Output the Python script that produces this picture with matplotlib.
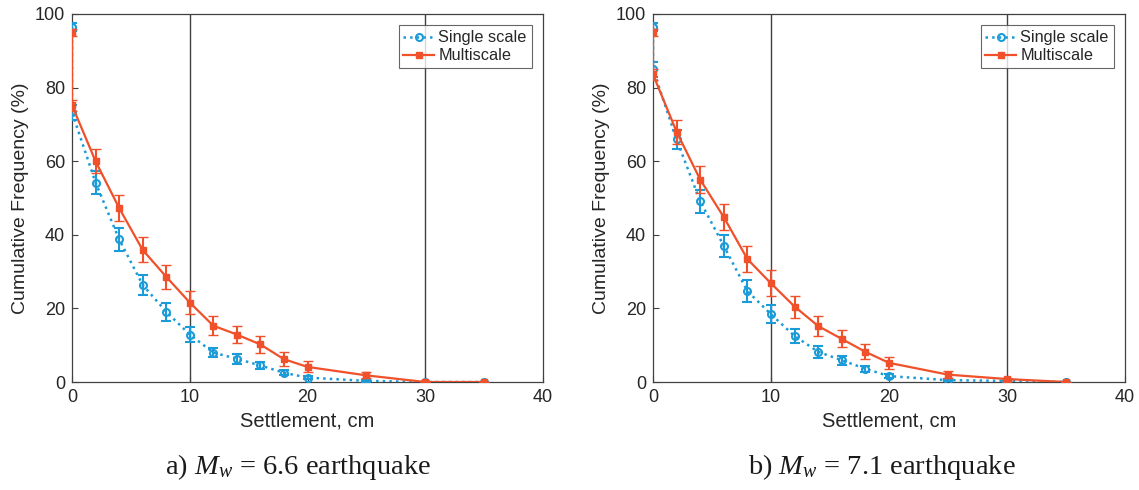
import numpy as np
import matplotlib
matplotlib.use("Agg")
import matplotlib.pyplot as plt

# ---- data ----
settle = [0, 0, 2, 4, 6, 8, 10, 12, 14, 16, 18, 20, 25, 30, 35]

# panel a) Mw = 6.6
a_single = [96.5, 73.3, 54.2, 38.8, 26.4, 19.1, 12.9, 8.0, 6.3, 4.5, 2.5, 1.2, 0.3, 0.0, 0.0]
a_single_err = [1.0, 2.0, 3.2, 3.1, 2.7, 2.5, 2.0, 1.3, 1.3, 1.0, 0.7, 0.5, 0.3, 0.0, 0.0]
a_multi = [95.0, 75.2, 60.0, 47.3, 35.9, 28.6, 21.6, 15.3, 12.9, 10.2, 6.2, 4.1, 1.8, 0.0, 0.0]
a_multi_err = [1.0, 1.5, 3.3, 3.5, 3.4, 3.3, 3.0, 2.6, 2.4, 2.3, 1.9, 1.5, 0.8, 0.0, 0.0]

# panel b) Mw = 7.1
b_single = [96.5, 85.0, 65.9, 49.1, 37.0, 24.7, 18.4, 12.5, 8.2, 5.9, 3.6, 1.6, 0.5, 0.3, 0.0]
b_single_err = [1.0, 2.0, 2.7, 3.2, 3.0, 2.9, 2.4, 2.0, 1.6, 1.2, 0.8, 0.6, 0.3, 0.2, 0.0]
b_multi = [95.0, 83.6, 68.0, 55.0, 44.8, 33.4, 26.8, 20.5, 15.2, 11.7, 8.2, 5.2, 2.0, 0.8, 0.0]
b_multi_err = [1.0, 1.5, 3.2, 3.6, 3.6, 3.5, 3.5, 3.0, 2.7, 2.3, 2.0, 1.6, 0.9, 0.4, 0.0]

xticks = [0, 10, 20, 30, 40]
yticks = [0, 20, 40, 60, 80, 100]
vlines = [10, 30]
captions = ["a) $\\mathit{M}_{\\mathit{w}}$ = 6.6 earthquake",
            "b) $\\mathit{M}_{\\mathit{w}}$ = 7.1 earthquake"]
labels = ["Single scale", "Multiscale"]

BLUE = "#1b9bd7"
ORANGE = "#f0502a"
TXT = "#262626"

plt.rcParams['font.family'] = ['Liberation Sans', 'DejaVu Sans']
plt.rcParams['mathtext.fontset'] = 'custom'
plt.rcParams['mathtext.it'] = 'Liberation Serif:italic'
plt.rcParams['mathtext.rm'] = 'Liberation Serif'

fig = plt.figure(figsize=(11.39, 4.90), dpi=100)
W, H = 1139, 490
boxes = [(72, 543), (653, 1125)]
cap_x = [298, 882]
top, bot = 14, 382

panels = [(a_single, a_single_err, a_multi, a_multi_err),
          (b_single, b_single_err, b_multi, b_multi_err)]

for (x0, x1), (s, se, m, me), cap, cx in zip(boxes, panels, captions, cap_x):
    ax = fig.add_axes([x0 / W, 1 - bot / H, (x1 - x0) / W, (bot - top) / H])
    for v in vlines:
        ax.axvline(v, color="#404040", lw=1.0, zorder=1)
    ax.errorbar(settle, s, yerr=se, color=BLUE, ls=':', lw=1.8, marker='o',
                ms=5, mfc='none', mew=1.5, capsize=3.5, elinewidth=1.5,
                capthick=1.5, label=labels[0], zorder=3)
    ax.errorbar(settle, m, yerr=me, color=ORANGE, ls='-', lw=1.6, marker='s',
                ms=4, mfc=ORANGE, mew=1.0, capsize=3.5, elinewidth=1.5,
                capthick=1.5, label=labels[1], zorder=4)
    ax.set_xlim(0, 40)
    ax.set_ylim(0, 100)
    ax.set_xticks(xticks)
    ax.set_yticks(yticks)
    ax.tick_params(direction='in', length=4, colors="#404040", labelcolor=TXT,
                   labelsize=13, top=False, right=False, pad=5)
    for sp in ax.spines.values():
        sp.set_color("#404040")
        sp.set_linewidth(0.9)
    ax.set_xlabel("Settlement, cm", fontsize=14.5, color=TXT, labelpad=4)
    ax.set_ylabel("Cumulative Frequency (%)", fontsize=14, color=TXT, labelpad=4)
    h, l = ax.get_legend_handles_labels()
    h = [hh[0] for hh in h]
    leg = ax.legend(h, l, loc='upper right', fontsize=11.7, frameon=True,
                    fancybox=False, edgecolor="#404040", borderpad=0.3,
                    handlelength=1.9, handletextpad=0.25, labelspacing=0.2,
                    borderaxespad=0.7)
    leg.get_frame().set_linewidth(0.8)
    for t in leg.get_texts():
        t.set_color(TXT)
    fig.text(cx / W, 1 - 467 / H, cap, ha='center', va='center',
             fontsize=20.5, family='Liberation Serif', color="#1a1a1a")

fig.savefig("out.png", dpi=100, facecolor='white')
